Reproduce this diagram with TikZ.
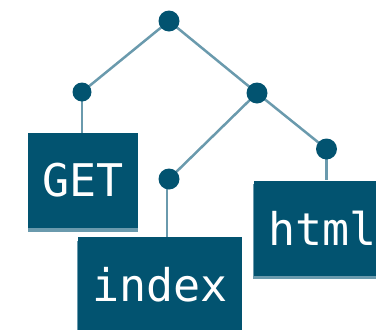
\documentclass[tikz,border=0pt]{standalone}
\usepackage{fontspec}
\setmonofont{DejaVu Sans Mono}
\definecolor{dark}{RGB}{2,83,112}
\definecolor{light}{RGB}{106,154,173}
\begin{document}
\begin{tikzpicture}[x=1pt,y=-1pt,
  dot/.style={circle,fill=dark,inner sep=0pt,minimum size=21pt},
  smalldot/.style={circle,fill=dark,inner sep=0pt,minimum size=19pt},
  edge/.style={draw=light,line width=2.5pt},
  leaf/.style={rectangle,fill=dark,text=white,inner xsep=14.5pt,inner ysep=0pt,
    minimum height=95pt,font=\ttfamily\fontsize{45}{50}\selectfont},
  shade/.style={fill=light}]
\useasboundingbox (0,0) rectangle (376,330);
\coordinate (root) at (169,21);
\coordinate (l) at (82,92);
\coordinate (r) at (257,93);
\coordinate (ri) at (169,179);
\coordinate (rh) at (326.5,149);
% boxes with lighter strip below
\fill[shade] (28,137) rectangle (138,232);
\fill[shade] (77,241) rectangle (242,336);
\fill[shade] (253,184) rectangle (391,279);
\node[leaf] (get) at (83,180.5) {GET};
\node[leaf] (index) at (160,284.5) {index};
\node[leaf] (html) at (322.5,228) {html};
% connectors
\path[edge] (root) -- (l);
\path[edge] (root) -- (r);
\path[edge] (r) -- (ri);
\path[edge] (r) -- (rh);
\path[edge] (l) -- (l |- get.north);
\path[edge] ([xshift=-2pt]ri) -- ([xshift=-2pt]ri |- index.north);
\path[edge] (rh) -- (rh |- html.north);
% dots
\node[dot] (rootdot) at (root) {};
\node[smalldot] (ldot) at (l) {};
\node[dot] (rdot) at (r) {};
\node[dot] (ridot) at (ri) {};
\node[dot] (rhdot) at (rh) {};
\end{tikzpicture}
\end{document}
